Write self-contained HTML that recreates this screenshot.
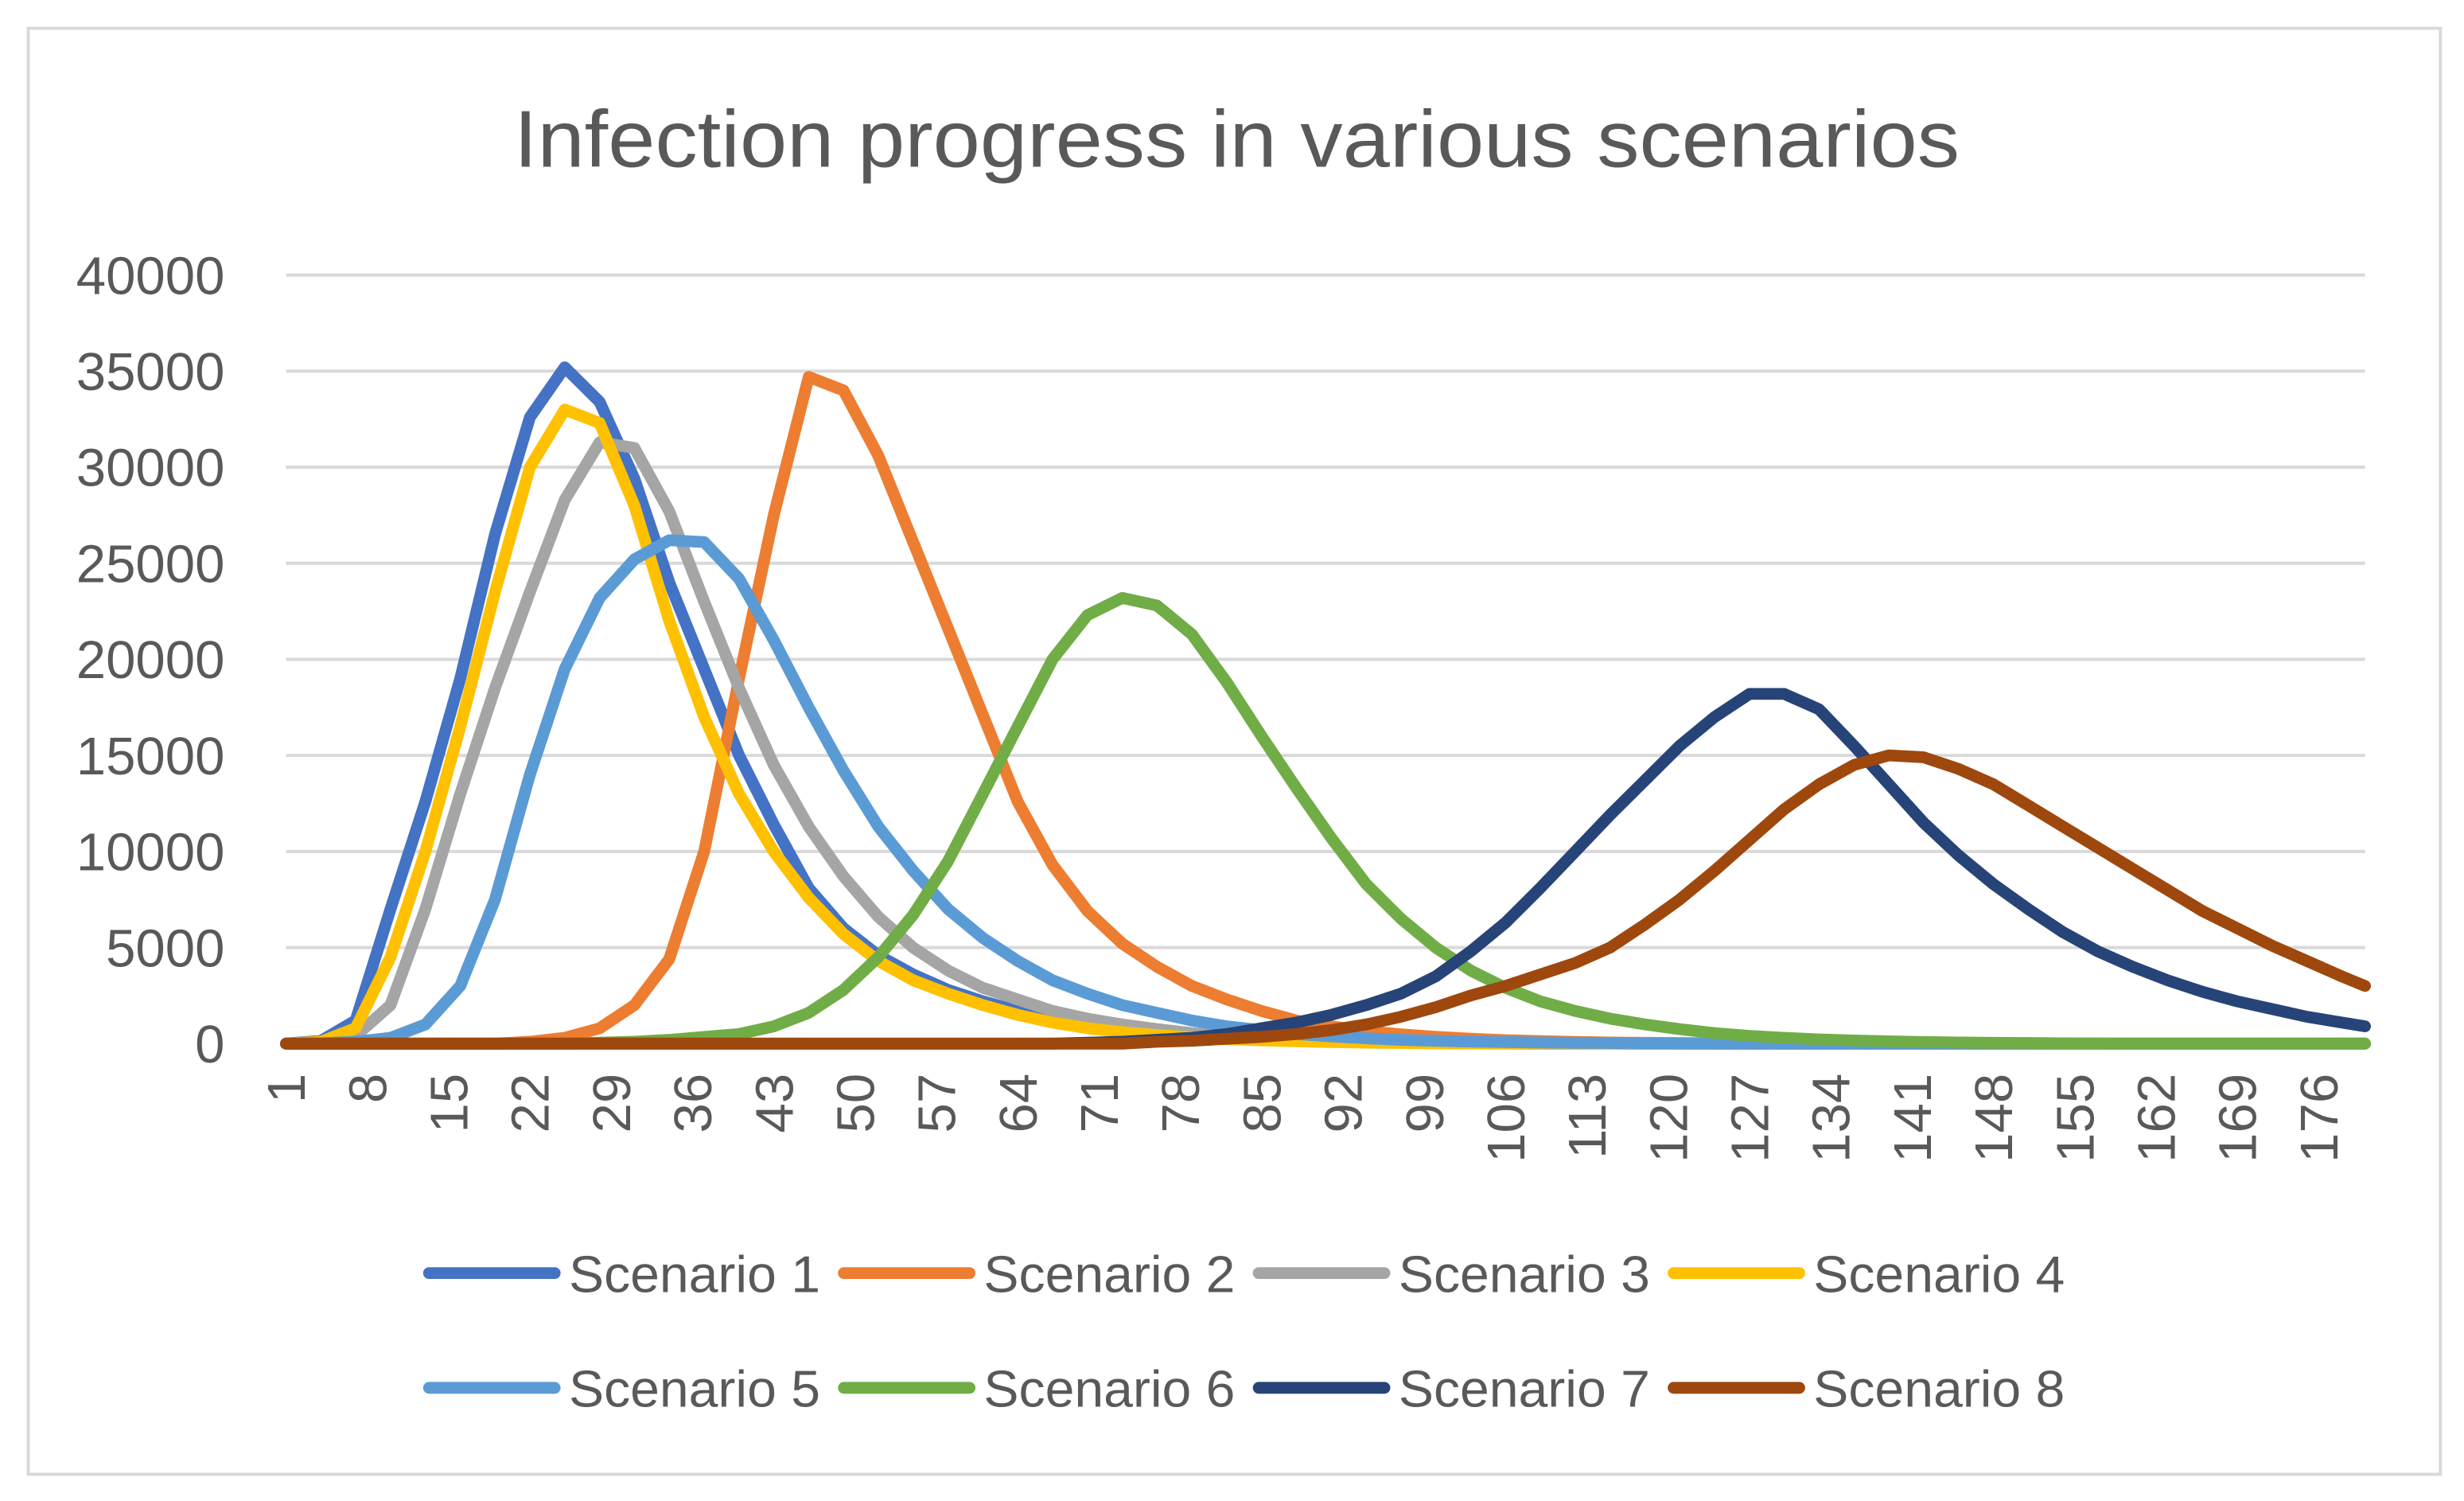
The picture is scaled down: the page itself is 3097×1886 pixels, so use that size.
<!DOCTYPE html>
<html><head><meta charset="utf-8"><style>
html,body{margin:0;padding:0;background:#fff;}
svg{display:block;font-family:"Liberation Sans",sans-serif;}
</style></head><body>
<svg id="chart" width="3097" height="1886" viewBox="0 0 1568 955" preserveAspectRatio="none" xmlns="http://www.w3.org/2000/svg">
<rect x="18" y="18" width="1535" height="920" fill="#fff" stroke="#d9d9d9" stroke-width="2"/>
<text x="787" y="106" text-anchor="middle" font-size="51" fill="#595959" textLength="920" lengthAdjust="spacingAndGlyphs">Infection progress in various scenarios</text>
<g id="grid"></g><g id="ylabels"></g><g id="xlabels"></g><g id="series"></g><g id="legend"></g>
</svg>
<script>
const days = [];
for (let d = 1; d <= 178; d += 3) days.push(d);
days.push(180);
const yTicks = [0,5000,10000,15000,20000,25000,30000,35000,40000];
const xTickLabels = [1,8,15,22,29,36,43,50,57,64,71,78,85,92,99,106,113,120,127,134,141,148,155,162,169,176];
const seriesNames = ["Scenario 1","Scenario 2","Scenario 3","Scenario 4","Scenario 5","Scenario 6","Scenario 7","Scenario 8"];
const seriesColors = ["#4472C4","#ED7D31","#A5A5A5","#FFC000","#5B9BD5","#70AD47","#264478","#9E480E"];
function pad(a){const r=a.slice();while(r.length<61)r.push(0);return r;}
const s1 = pad([0,150,1200,7000,12600,19000,26500,32600,35200,33400,29400,24000,19500,15000,11400,8100,6000,4600,3600,2800,2200,1700,1300,1000,750,550,400,300,200,150,100,70,50,30,20,10]);
const s2 = pad([0,0,0,0,0,0,0,100,300,800,2000,4400,10000,19000,27500,34700,34000,30600,26100,21600,17100,12600,9300,6900,5200,4000,3000,2300,1700,1200,900,650,480,350,250,180,130,90,60,40,30,20,10]);
const s3 = pad([0,50,400,2000,7000,13000,18500,23500,28300,31300,31000,27700,23000,18500,14500,11300,8700,6600,5000,3800,2900,2300,1700,1300,1000,750,550,400,300,220,160,110,80,50,30,20,10]);
const s4 = pad([0,100,800,4500,10000,16500,23500,30000,33000,32300,28000,22000,17000,13000,10000,7600,5700,4300,3300,2600,2000,1500,1100,800,600,450,330,240,170,120,80,50,30,20,10]);
const s5 = pad([0,20,100,300,1000,3000,7500,14000,19500,23200,25200,26200,26100,24200,21000,17500,14200,11300,9000,7000,5500,4300,3300,2600,2000,1600,1200,900,700,500,380,280,200,150,110,80,60,40,30,20,10]);
const s6 = pad([0,0,0,0,0,0,0,0,0,50,100,200,350,500,900,1600,2800,4500,6700,9500,13000,16500,20000,22300,23200,22800,21300,18800,16000,13300,10700,8300,6500,5000,3800,2900,2200,1700,1300,1000,750,550,400,300,220,160,120,80,60,40,30,20,10]);
const s7 = [0,0,0,0,0,0,0,0,0,0,0,0,0,0,0,0,0,0,0,0,0,0,0,50,100,200,300,500,800,1100,1500,2000,2600,3500,4800,6300,8100,10000,11900,13700,15500,17000,18200,18200,17400,15500,13500,11500,9800,8300,7000,5800,4800,4000,3300,2700,2200,1800,1400,1100,900];
const s8 = [0,0,0,0,0,0,0,0,0,0,0,0,0,0,0,0,0,0,0,0,0,0,0,0,0,100,150,250,350,500,700,1000,1400,1900,2500,3000,3600,4200,5000,6200,7500,9000,10600,12200,13500,14500,15000,14900,14300,13500,12400,11300,10200,9100,8000,6900,6000,5100,4300,3500,3000];
const allSeries = [s1,s2,s3,s4,s5,s6,s7,s8];

const NS="http://www.w3.org/2000/svg";
const X0=182, X1=1505, Y0=664, Y1=175;
function xScale(d){return X0+(d-1)*(X1-X0)/179;}
function yScale(v){return Y0-v*(Y0-Y1)/40000;}
function mk(tag,attrs,parent,txt){const e=document.createElementNS(NS,tag);for(const k in attrs)e.setAttribute(k,attrs[k]);if(txt!==undefined)e.textContent=txt;parent.appendChild(e);return e;}

const grid=document.getElementById('grid'), yl=document.getElementById('ylabels');
yTicks.forEach(v=>{
  const l=mk('line',{x1:X0,x2:X1,y1:yScale(v),y2:yScale(v),stroke:'#d9d9d9','stroke-width':2},grid);
  
  
  const t=mk('text',{x:143,y:yScale(v)+12,'text-anchor':'end','font-size':34,fill:'#595959'},yl,String(v));
  
  
});
const xl=document.getElementById('xlabels');
xTickLabels.forEach(d=>{
  const x=xScale(d)+12, y=683;
  const t=mk('text',{x:x,y:y,'text-anchor':'end','font-size':34,fill:'#595959',transform:`rotate(-90 ${x} ${y})`},xl,String(d));
  
  
});
const sg=document.getElementById('series');
allSeries.forEach((s,i)=>{
  const pts=s.map((v,j)=>xScale(days[j]).toFixed(1)+','+yScale(v).toFixed(1)).join(' ');
  const p=mk('polyline',{points:pts,fill:'none',stroke:seriesColors[i],'stroke-width':7.5,'stroke-linejoin':'round','stroke-linecap':'round'},sg);
  
  
});
const lg=document.getElementById('legend');
seriesNames.forEach((n,i)=>{
  const col=i%4,row=Math.floor(i/4);
  const lx=270+col*264, ly=810+row*73;
  const g=mk('g',{},lg);
  
  
  mk('line',{x1:lx+3,x2:lx+83,y1:ly,y2:ly,stroke:seriesColors[i],'stroke-width':7.5,'stroke-linecap':'round'},g);
  mk('text',{x:lx+92,y:ly+12,'font-size':33,fill:'#595959',textLength:160,lengthAdjust:'spacingAndGlyphs'},g,n);
});
</script>
</body></html>
